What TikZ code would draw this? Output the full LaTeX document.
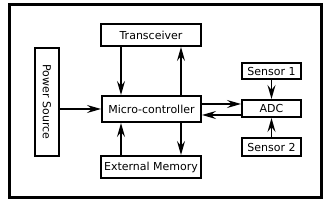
\documentclass[tikz,border=0pt]{standalone}
\usepackage{fontspec}
\setmainfont{DejaVu Sans}
\usetikzlibrary{arrows.meta}
\begin{document}
\begin{tikzpicture}[x=1pt,y=-1pt,
  box/.style={draw,line width=2pt,inner sep=0pt,font=\fontsize{11}{13}\selectfont},
  arr/.style={line width=1.6pt,-{Stealth[length=14pt,width=8pt,inset=5pt]}}]
\useasboundingbox (0,0) rectangle (330,205);
\draw[line width=3pt] (9.5,4.5) rectangle (321.5,198);
\node[box,minimum width=100pt,minimum height=22pt] (tr) at (151,35) {Transceiver};
\node[box,rotate=-90,minimum width=108pt,minimum height=24pt] (ps) at (47,102) {Power Source};
\node[box,minimum width=99pt,minimum height=26pt] (mc) at (151.5,109) {Micro-controller};
\node[box,minimum width=100pt,minimum height=22pt] (em) at (151,167) {External Memory};
\node[box,minimum width=59pt,minimum height=16pt] (s1) at (271.5,71) {Sensor 1};
\node[box,minimum width=59pt,minimum height=17pt] (adc) at (271.5,108.5) {ADC};
\node[box,minimum width=59pt,minimum height=18pt] (s2) at (271.5,147) {Sensor 2};
\draw[arr] ([xshift=-30pt]tr.south) -- ([xshift=-30pt]tr.south |- mc.north);
\draw[arr] ([xshift=30pt]tr.south |- mc.north) -- ([xshift=30pt]tr.south);
\draw[arr] ([xshift=30pt]em.north |- mc.south) -- ([xshift=30pt]em.north);
\draw[arr] ([xshift=-30pt]em.north) -- ([xshift=-30pt]em.north |- mc.south);
\draw[arr] (ps.north |- mc.west) -- (mc.west);
\draw[arr] ([yshift=5pt]mc.east) -- ([yshift=5pt]mc.east -| adc.west);
\draw[arr] ([yshift=-6pt]mc.east -| adc.west) -- ([yshift=-6pt]mc.east);
\draw[arr] (s1.south) -- (adc.north);
\draw[arr] (s2.north) -- (adc.south);
\end{tikzpicture}
\end{document}
